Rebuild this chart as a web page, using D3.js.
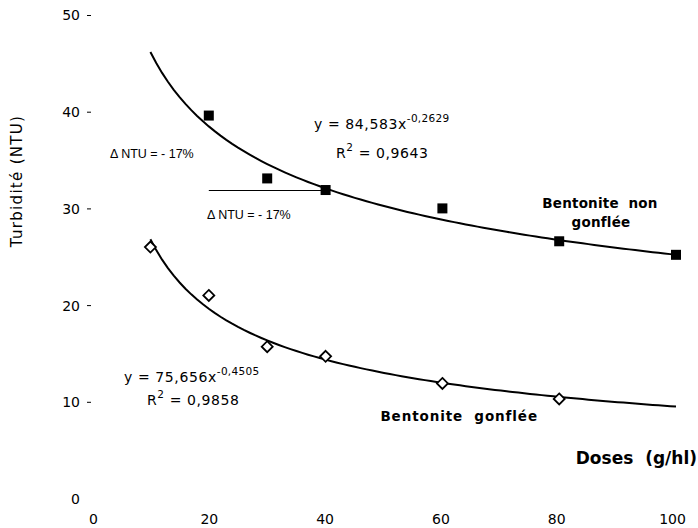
<!DOCTYPE html>
<html>
<head>
<meta charset="utf-8">
<script src="https://cdn.jsdelivr.net/npm/d3@7"></script>
<style>
  body { margin: 0; background: #fff; }
  text { fill: #000; }
</style>
</head>
<body>
<div id="chart"></div>
<script>
// data
const doses = [10, 20, 30, 40, 60, 80, 100];
const nonGonflee = [null, 39.6, 33.1, 31.9, 30.0, 26.6, 25.2];
const gonflee = [26.0, 21.0, 15.7, 14.7, 11.9, 10.3, null];
const fitNon = { a: 84.583, b: -0.2629, r2: "0,9643", aTxt: "84,583", bTxt: "-0,2629" };
const fitGon = { a: 75.656, b: -0.4505, r2: "0,9858", aTxt: "75,656", bTxt: "-0,4505" };
const xTicks = [0, 20, 40, 60, 80, 100];
const yTicks = [0, 10, 20, 30, 40, 50];
const deltaLabel = "\u0394 NTU = - 17%";

const W = 698, H = 528;
const svg = d3.select('#chart').append('svg')
  .attr('width', W).attr('height', H);

const x = d3.scaleLinear().domain([0, 100]).range([92, 676]);
const y = d3.scaleLinear().domain([0, 50]).range([498.5, 15]);

const tickFont = 'DejaVu Sans, Verdana, sans-serif';

// y axis: short dashes, no axis line
const yAxis = svg.append('g').attr('transform', 'translate(92,0)')
  .call(d3.axisLeft(y).tickValues(yTicks).tickSize(4).tickPadding(8));
yAxis.select('.domain').remove();
yAxis.selectAll('.tick line').attr('transform', 'translate(-1,0)')
  .filter(d => d === 0).remove();
yAxis.selectAll('.tick text')
  .style('font-family', tickFont).style('font-size', '14px').attr('dy', '0.35em');

// x axis: labels only (labels sit a little left of the marks in the original)
const xAxis = svg.append('g').attr('transform', 'translate(0,498)')
  .call(d3.axisBottom(x).tickValues(xTicks).tickSize(0).tickPadding(16));
xAxis.select('.domain').remove();
xAxis.selectAll('.tick text')
  .attr('dx', d => 1 - d * 0.05)
  .style('font-family', tickFont).style('font-size', '14px');

// axis titles
svg.append('text')
  .attr('transform', 'translate(22,181) rotate(-90)')
  .attr('text-anchor', 'middle')
  .style('font-family', tickFont).style('font-size', '15px')
  .style('letter-spacing', '1.3px')
  .text('Turbidité (NTU)');

svg.append('text')
  .attr('x', 697).attr('y', 464).attr('text-anchor', 'end')
  .style('font-family', tickFont).style('font-size', '17px').style('font-weight', 'bold')
  .attr('xml:space', 'preserve')
  .text('Doses  (g/hl)');

// trend curves
const curveX = d3.range(10, 100.5, 1);
const line = d3.line().x(d => x(d[0])).y(d => y(d[1]));
[fitNon, fitGon].forEach(f => {
  svg.append('path')
    .datum(curveX.map(v => [v, f.a * Math.pow(v, f.b)]))
    .attr('d', line)
    .attr('fill', 'none').attr('stroke', '#000').attr('stroke-width', 2);
});

// reference line for delta NTU
const refY = Math.round(y(nonGonflee[3])) + 0.5;
svg.append('line')
  .attr('x1', x(20)).attr('x2', x(40))
  .attr('y1', refY).attr('y2', refY)
  .attr('stroke', '#000').attr('stroke-width', 1);

// markers
const sq = 10;
svg.append('g').selectAll('rect')
  .data(doses.map((d, i) => [d, nonGonflee[i]]).filter(d => d[1] != null))
  .join('rect')
  .attr('x', d => x(d[0]) - sq / 2).attr('y', d => y(d[1]) - sq / 2)
  .attr('width', sq).attr('height', sq).attr('fill', '#000');

const dm = 5.5;
svg.append('g').selectAll('path')
  .data(doses.map((d, i) => [d, gonflee[i]]).filter(d => d[1] != null))
  .join('path')
  .attr('d', d => {
    const cx = x(d[0]), cy = y(d[1]);
    return `M${cx},${cy - dm}L${cx + dm},${cy}L${cx},${cy + dm}L${cx - dm},${cy}Z`;
  })
  .attr('fill', '#fff').attr('stroke', '#000').attr('stroke-width', 1.8);

// equations
function equation(f, x0, yb, rx, rb) {
  const t = svg.append('text').attr('x', x0).attr('y', yb)
    .style('font-family', tickFont).style('font-size', '14px').style('letter-spacing', '0.6px');
  t.append('tspan').text(`y = ${f.aTxt}x`);
  t.append('tspan').attr('dy', -7).style('font-size', '10.5px').style('letter-spacing', '0.3px').text(f.bTxt);
  const r = svg.append('text').attr('x', rx).attr('y', rb)
    .style('font-family', tickFont).style('font-size', '14px').style('letter-spacing', '0.6px');
  r.append('tspan').text('R');
  r.append('tspan').attr('dy', -7).style('font-size', '10.5px').text('2');
  r.append('tspan').attr('dy', 7).text(' = ' + f.r2);
}
equation(fitNon, 314, 129, 336, 158);
equation(fitGon, 124, 382, 147, 405);

// delta labels
const smallFont = 'Liberation Sans, Arial, sans-serif';
svg.append('text').attr('x', 110).attr('y', 158)
  .style('font-family', smallFont).style('font-size', '12.5px').text(deltaLabel);
svg.append('text').attr('x', 207).attr('y', 219)
  .style('font-family', smallFont).style('font-size', '12.5px').text(deltaLabel);

// series names
const boldStyle = (t, ls) => t.style('font-family', tickFont).style('font-size', '13.5px')
  .style('font-weight', 'bold').style('letter-spacing', ls + 'px').attr('xml:space', 'preserve');
boldStyle(svg.append('text').attr('x', 600).attr('y', 208).attr('text-anchor', 'middle'), 0.2)
  .text('Bentonite  non');
boldStyle(svg.append('text').attr('x', 601).attr('y', 227).attr('text-anchor', 'middle'), 0.2)
  .text('gonflée');
boldStyle(svg.append('text').attr('x', 538).attr('y', 421).attr('text-anchor', 'end'), 0.9)
  .text('Bentonite  gonflée');
</script>
</body>
</html>
